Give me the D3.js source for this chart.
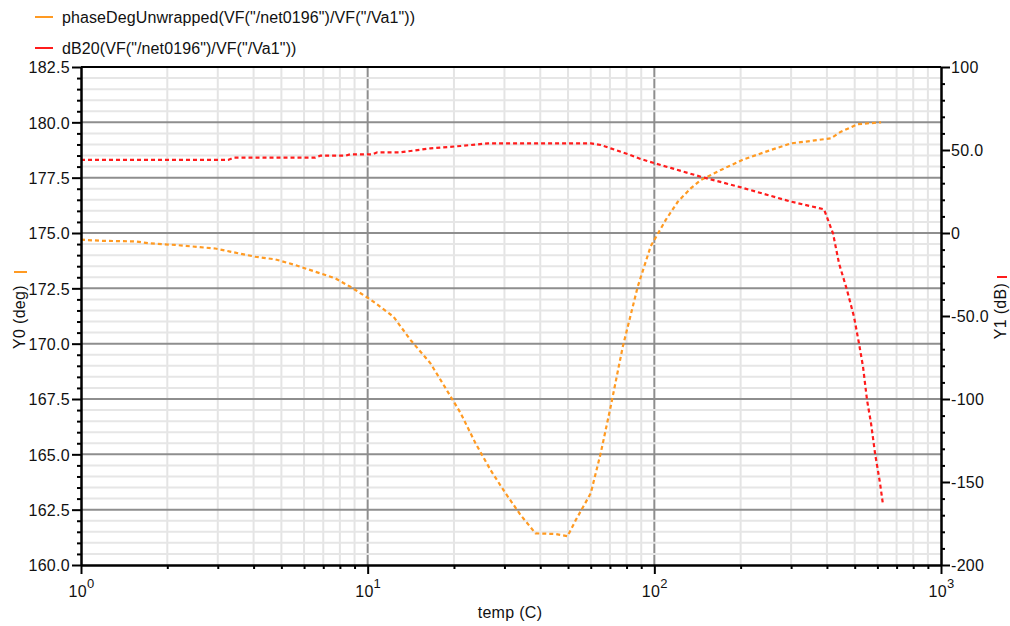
<!DOCTYPE html>
<html>
<head>
<meta charset="utf-8">
<script src="https://cdn.jsdelivr.net/npm/d3@7"></script>
<style>
  html, body { margin: 0; padding: 0; background: #ffffff; }
  svg { display: block; }
  text { font-family: "Liberation Sans", Arial, sans-serif; font-size: 16px; fill: #111; letter-spacing: 0.3px; }
  .legend text { letter-spacing: 0.1px; }
</style>
</head>
<body>
<svg id="chart" width="1010" height="626"></svg>
<script>
// Sweep results: temperature (C) vs. phase and gain of net0196 relative to Va1
const phaseTemp = [1, 1.165, 1.544, 1.742, 2.13, 2.6, 2.94, 3.31, 4.05, 4.76, 5.59, 6.57, 7.71, 8.7,
  10.22, 12.3, 14.1, 16.56, 18.68, 21.08, 23.78, 26.83, 30.27, 34.15, 38.5, 45.2, 49.8, 53.2, 60.0,
  65.0, 70.4, 77.6, 87.5, 97.1, 109.6, 120.7, 134.0, 145.2, 170.6, 205.2, 255, 299.5, 351.8, 413.2,
  447.9, 513.5, 618];
const phaseDeg = [174.7, 174.65, 174.62, 174.53, 174.46, 174.36, 174.3, 174.16, 173.93, 173.81, 173.55,
  173.25, 172.95, 172.57, 172.0, 171.22, 170.17, 169.11, 168.0, 166.87, 165.5, 164.29, 163.24, 162.26,
  161.43, 161.4, 161.3, 162.03, 163.24, 165.05, 167.15, 169.86, 172.57, 174.4, 175.59, 176.41, 177.02,
  177.39, 177.85, 178.33, 178.75, 179.05, 179.16, 179.28, 179.58, 179.92, 180.0];

const gainTemp = [1, 3.26, 3.4, 6.57, 6.84, 8.36, 8.7, 10.4, 10.8, 13.0, 16.56, 21.08, 26.3, 60.0, 65.0,
  70.4, 80.7, 89.6, 100.3, 114.1, 145.2, 200.4, 299.5, 390.6, 420, 440.8, 469.9, 497.1, 517.5, 534.5,
  552, 570, 588.7, 612.9, 627.8];
const gainDb = [44.0, 44.0, 45.4, 45.4, 46.6, 46.6, 47.4, 47.4, 48.6, 48.6, 51.0, 52.4, 54.0, 54.0, 53.0,
  51.0, 47.6, 44.6, 42.0, 39.2, 33.9, 27.5, 18.9, 14.3, -0.2, -18.3, -34.3, -50.4, -66.5, -80.5,
  -100.6, -114.6, -132.7, -150.8, -163.9];

// Axis ticks and labels
const leftTicks = [160, 162.5, 165, 167.5, 170, 172.5, 175, 177.5, 180, 182.5];
const rightTicks = [-200, -150, -100, -50, 0, 50, 100];
const rightTickLabels = ["-200", "-150", "-100", "-50.0", "0", "50.0", "100"];
const xDecades = [1, 10, 100, 1000];
const xExponents = ["0", "1", "2", "3"];

const legendNames = [
  'phaseDegUnwrapped(VF("/net0196")/VF("/Va1"))',
  'dB20(VF("/net0196")/VF("/Va1"))'
];
const seriesColors = ["#ff9a22", "#ff1c1c"];
const axisTitles = { x: "temp (C)", left: "Y0 (deg)", right: "Y1 (dB)" };

// Plot frame
const plotL = 81, plotR = 941, plotT = 67, plotB = 565;
const svg = d3.select("#chart");

const x = d3.scaleLog().domain([1, 1000]).range([plotL, plotR]);
const yL = d3.scaleLinear().domain([160, 182.5]).range([plotB, plotT]);
const yR = d3.scaleLinear().domain([-200, 100]).range([plotB, plotT]);

// Minor decade positions 2..9
const xMinor = [];
for (let k = 0; k < 3; k++) for (let m = 2; m <= 9; m++) xMinor.push(m * Math.pow(10, k));
const yMinor = d3.range(160, 182.5001, 0.5).filter(v => Math.abs(v / 2.5 - Math.round(v / 2.5)) > 1e-6);
const yRMinor = d3.range(-200, 100.001, 10).filter(v => v % 50 !== 0);

const grid = svg.append("g");
grid.selectAll(".vmin").data(xMinor).join("line")
  .attr("x1", d => x(d)).attr("x2", d => x(d)).attr("y1", plotT).attr("y2", plotB)
  .attr("stroke", "#e4e4e4").attr("stroke-width", 2);
grid.selectAll(".vmaj").data([10, 100]).join("line")
  .attr("x1", d => x(d)).attr("x2", d => x(d)).attr("y1", plotT).attr("y2", plotB)
  .attr("stroke", "#8e8e8e").attr("stroke-width", 2);
grid.selectAll(".hmin").data(yMinor).join("line")
  .attr("x1", plotL).attr("x2", plotR).attr("y1", d => yL(d)).attr("y2", d => yL(d))
  .attr("stroke", "#e6e6e6").attr("stroke-width", 2);
grid.selectAll(".hmaj").data(leftTicks.slice(1, -1)).join("line")
  .attr("x1", plotL).attr("x2", plotR).attr("y1", d => yL(d)).attr("y2", d => yL(d))
  .attr("stroke", "#8e8e8e").attr("stroke-width", 2);

// Curves
const phaseLine = d3.line().x(d => x(d[0])).y(d => yL(d[1]));
const gainLine = d3.line().x(d => x(d[0])).y(d => yR(d[1]));
svg.append("path").datum(d3.zip(phaseTemp, phaseDeg)).attr("d", phaseLine)
  .attr("fill", "none").attr("stroke", seriesColors[0]).attr("stroke-width", 2.2)
  .attr("stroke-dasharray", "4,3");
svg.append("path").datum(d3.zip(gainTemp, gainDb)).attr("d", gainLine)
  .attr("fill", "none").attr("stroke", seriesColors[1]).attr("stroke-width", 2.2)
  .attr("stroke-dasharray", "4,3");

// Axes
function styleAxis(g) {
  g.selectAll("path.domain").attr("stroke", "#000").attr("stroke-width", 2);
  g.selectAll(".tick line").attr("stroke", "#000").attr("stroke-width", 2);
  g.selectAll(".tick text").attr("font-size", null).attr("font-family", null).attr("fill", "#111");
}

// Left axis
const gLeft = svg.append("g").attr("transform", `translate(${plotL},0)`);
gLeft.call(d3.axisLeft(yL).tickValues(yMinor).tickSize(4).tickSizeOuter(0).tickFormat(""));
gLeft.append("g").call(d3.axisLeft(yL).tickValues(leftTicks).tickSize(9).tickSizeOuter(0)
  .tickPadding(2).tickFormat(d3.format(".1f")));
gLeft.call(styleAxis);
gLeft.selectAll(".tick text").attr("dy", "0.36em");

// Right axis
const gRight = svg.append("g").attr("transform", `translate(${plotR},0)`);
gRight.call(d3.axisRight(yR).tickValues(yRMinor).tickSize(4).tickSizeOuter(0).tickFormat(""));
gRight.append("g").call(d3.axisRight(yR).tickValues(rightTicks).tickSize(9).tickSizeOuter(0)
  .tickPadding(1).tickFormat((d, i) => rightTickLabels[i]));
gRight.call(styleAxis);
gRight.selectAll(".tick text").attr("dy", "0.36em");

// Bottom axis with decade labels as 10^n
const gBottom = svg.append("g").attr("transform", `translate(0,${plotB})`);
gBottom.call(d3.axisBottom(x).tickValues(xMinor).tickSize(4).tickSizeOuter(0).tickFormat(""));
const gDec = gBottom.append("g").call(d3.axisBottom(x).tickValues(xDecades).tickSize(9)
  .tickSizeOuter(0).tickFormat(""));
gBottom.call(styleAxis);
gDec.selectAll(".tick").each(function (d, i) {
  const t = d3.select(this).append("text").attr("y", 32).attr("text-anchor", "middle")
    .attr("fill", "#111");
  t.append("tspan").text("10");
  t.append("tspan").attr("dy", -9).attr("font-size", 13).text(xExponents[i]);
});

// Top border
svg.append("line").attr("x1", plotL).attr("x2", plotR).attr("y1", plotT).attr("y2", plotT)
  .attr("stroke", "#000").attr("stroke-width", 2);

// Axis titles
svg.append("text").attr("x", 510).attr("y", 618).attr("text-anchor", "middle").text(axisTitles.x);
svg.append("text").attr("transform", "translate(25,317) rotate(-90)").attr("text-anchor", "middle")
  .text(axisTitles.left);
svg.append("line").attr("x1", 14).attr("x2", 27).attr("y1", 272).attr("y2", 272)
  .attr("stroke", seriesColors[0]).attr("stroke-width", 2);
svg.append("text").attr("transform", "translate(1006,311) rotate(-90)").attr("text-anchor", "middle")
  .text(axisTitles.right);
svg.append("line").attr("x1", 997).attr("x2", 1007).attr("y1", 277).attr("y2", 277)
  .attr("stroke", seriesColors[1]).attr("stroke-width", 2);

// Legend
const legend = svg.append("g").attr("class", "legend");
legendNames.forEach((name, i) => {
  const yy = 17 + i * 31;
  legend.append("line").attr("x1", 35).attr("x2", 53).attr("y1", yy).attr("y2", yy)
    .attr("stroke", seriesColors[i]).attr("stroke-width", 2);
  legend.append("text").attr("x", 62).attr("y", yy + 6).text(name);
});
</script>
</body>
</html>
